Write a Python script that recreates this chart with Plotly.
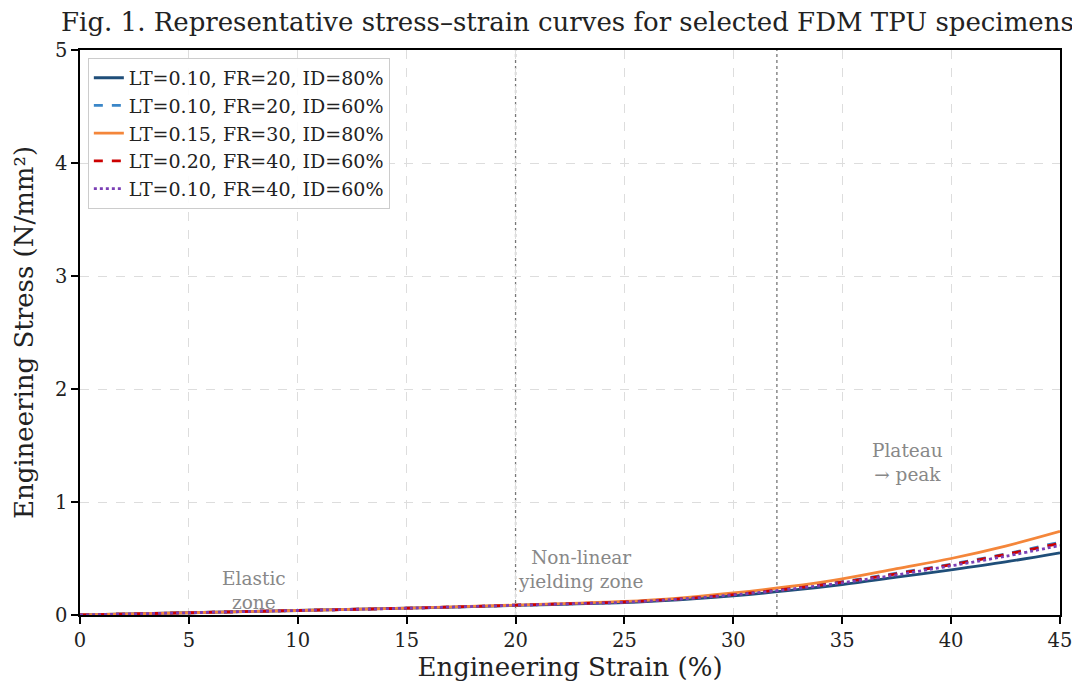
import plotly.graph_objects as go

strain = [0, 5, 10, 15, 20, 22.5, 25, 27.5, 30, 32.5, 35, 37.5, 40, 42.5, 45]
s_lt010_fr20_id80 = [0, 0.02, 0.04, 0.06, 0.085, 0.097, 0.11, 0.135, 0.17, 0.215, 0.27, 0.335, 0.40, 0.47, 0.55]
s_lt010_fr20_id60 = [0, 0.02, 0.04, 0.06, 0.087, 0.10, 0.115, 0.142, 0.182, 0.232, 0.295, 0.37, 0.45, 0.54, 0.645]
s_lt015_fr30_id80 = [0, 0.02, 0.04, 0.06, 0.088, 0.103, 0.12, 0.15, 0.195, 0.25, 0.32, 0.41, 0.50, 0.61, 0.74]
s_lt020_fr40_id60 = [0, 0.02, 0.04, 0.06, 0.087, 0.10, 0.115, 0.142, 0.18, 0.23, 0.29, 0.365, 0.445, 0.535, 0.635]
s_lt010_fr40_id60 = [0, 0.02, 0.04, 0.06, 0.086, 0.099, 0.113, 0.14, 0.178, 0.226, 0.285, 0.355, 0.435, 0.52, 0.615]

series = [
    ("LT=0.10, FR=20, ID=80%", s_lt010_fr20_id80, "#1f4e79", "solid"),
    ("LT=0.10, FR=20, ID=60%", s_lt010_fr20_id60, "#3a86c8", "dash"),
    ("LT=0.15, FR=30, ID=80%", s_lt015_fr30_id80, "#f4863a", "solid"),
    ("LT=0.20, FR=40, ID=60%", s_lt020_fr40_id60, "#cc0000", "dash"),
    ("LT=0.10, FR=40, ID=60%", s_lt010_fr40_id60, "#7b3fb5", "dot"),
]

zone_boundaries = [20, 32]
zone_labels = [("Elastic<br>zone", 8, 0.22), ("Non-linear<br>yielding zone", 23, 0.40), ("Plateau<br>→ peak", 38, 1.35)]

FONT = "DejaVu Serif"
fig = go.Figure()
for name, ys, color, dash in series:
    fig.add_trace(go.Scatter(x=strain, y=ys, mode="lines", name=name,
                             line=dict(color=color, width=2.8, dash=dash, shape="spline")))

for xb in zone_boundaries:
    fig.add_shape(type="line", x0=xb, x1=xb, y0=0, y1=1, xref="x", yref="paper",
                  line=dict(color="#777777", width=1.3, dash="dot"), layer="below")

for txt, xv, yv in zone_labels:
    fig.add_annotation(x=xv, y=yv, text=txt, showarrow=False,
                       font=dict(family=FONT, size=18.5, color="#888888"))

axis_common = dict(showline=True, linecolor="black", linewidth=1.5, mirror=True,
                   ticks="outside", ticklen=7, tickcolor="black", tickwidth=1.5,
                   showgrid=True, gridcolor="#dddddd", griddash="dash", gridwidth=1,
                   zeroline=False, tickfont=dict(family=FONT, size=19.5, color="#222222"))

fig.update_layout(
    width=1080, height=688,
    margin=dict(l=72, r=28, t=42, b=81),
    paper_bgcolor="white", plot_bgcolor="white",
    font=dict(family=FONT, color="#222222"),
    title=dict(text="Fig. 1. Representative stress–strain curves for selected FDM TPU specimens",
               x=0.518, xanchor="center", y=0.980, yanchor="middle",
               font=dict(family=FONT, size=26, color="#222222")),
    xaxis=dict(range=[0, 45], tickvals=[0, 5, 10, 15, 20, 25, 30, 35, 40, 45],
               title=dict(text="Engineering Strain (%)", font=dict(family=FONT, size=26), standoff=6),
               **axis_common),
    yaxis=dict(range=[0, 5], tickvals=[0, 1, 2, 3, 4, 5],
               title=dict(text="Engineering Stress (N/mm²)", font=dict(family=FONT, size=26), standoff=14),
               **axis_common),
    legend=dict(x=0.008, y=0.986, xanchor="left", yanchor="top",
                bgcolor="rgba(255,255,255,0.9)", bordercolor="#cccccc", borderwidth=1,
                font=dict(family=FONT, size=19, color="#222222"), tracegroupgap=0),
    showlegend=True,
)

fig.write_html("out.html")
